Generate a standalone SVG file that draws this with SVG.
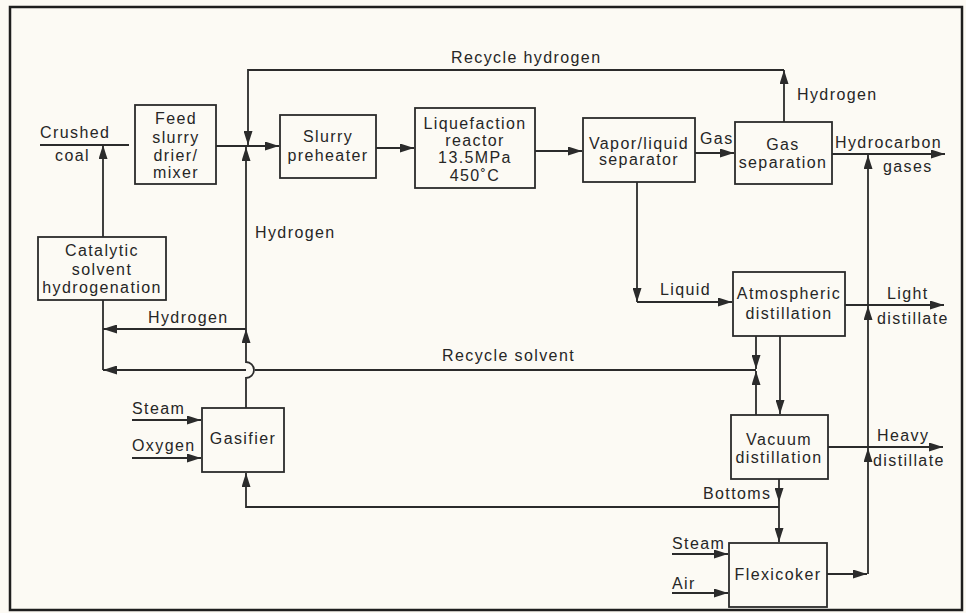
<svg xmlns="http://www.w3.org/2000/svg" width="966" height="613" viewBox="0 0 966 613">
<style>
.box{fill:none;stroke:#2b2b2b;stroke-width:1.8}
.ln{fill:none;stroke:#2b2b2b;stroke-width:1.8}
.ar{fill:none;stroke:#2b2b2b;stroke-width:1.8;marker-end:url(#ah)}
text{font-family:"Liberation Sans",Arial,Helvetica,sans-serif;font-size:16px;letter-spacing:1.4px;fill:#262626}
.c{text-anchor:middle}
</style>
<defs>
<marker id="ah" viewBox="0 0 14 9" refX="14" refY="4.5" markerWidth="14" markerHeight="9" markerUnits="userSpaceOnUse" orient="auto">
<path d="M0,0 L14,4.5 L0,9 Z" fill="#2b2b2b"/>
</marker>
</defs>
<rect x="0" y="0" width="966" height="613" fill="#fcfaf4"/>
<rect x="10" y="7" width="952" height="603" fill="none" stroke="#1e1e1e" stroke-width="2.5"/>

<g id="feed"><rect class="box" x="135" y="105" width="81" height="79"/>
<text class="c" x="176" y="124">Feed</text><text class="c" x="176" y="143">slurry</text><text class="c" x="176" y="161">drier/</text><text class="c" x="176" y="178">mixer</text></g>
<g id="slurry"><rect class="box" x="280" y="115" width="96" height="63"/>
<text class="c" x="328" y="142">Slurry</text><text class="c" x="328" y="161">preheater</text></g>
<g id="reactor"><rect class="box" x="415" y="108" width="120" height="80"/>
<text class="c" x="475" y="129">Liquefaction</text><text class="c" x="475" y="146">reactor</text><text class="c" x="475" y="163">13.5MPa</text><text class="c" x="475" y="181">450˚C</text></g>
<g id="vls"><rect class="box" x="583" y="118" width="112" height="64"/>
<text class="c" x="639" y="149">Vapor/liquid</text><text class="c" x="639" y="165">separator</text></g>
<g id="gassep"><rect class="box" x="735" y="122" width="97" height="62"/>
<text class="c" x="783" y="150">Gas</text><text class="c" x="783" y="168">separation</text></g>
<g id="catalytic"><rect class="box" x="38" y="237" width="128" height="63"/>
<text class="c" x="102" y="256">Catalytic</text><text class="c" x="102" y="275">solvent</text><text class="c" x="102" y="293">hydrogenation</text></g>
<g id="atm"><rect class="box" x="733" y="272" width="112" height="64"/>
<text class="c" x="789" y="299">Atmospheric</text><text class="c" x="789" y="319">distillation</text></g>
<g id="vac"><rect class="box" x="731" y="415" width="97" height="64"/>
<text class="c" x="779" y="445">Vacuum</text><text class="c" x="779" y="463">distillation</text></g>
<g id="flexicoker"><rect class="box" x="729" y="543" width="98" height="64"/>
<text class="c" x="778" y="580">Flexicoker</text></g>
<g id="gasifier"><rect class="box" x="202" y="408" width="82" height="64"/>
<text class="c" x="243" y="444">Gasifier</text></g>

<g id="connectors">
<path class="ln" d="M40,145 L129,145"/>
<path class="ar" d="M103,237 L103,145"/>
<path class="ar" d="M216,146 L279,146"/>
<path class="ar" d="M784,122 L784,70"/>
<path class="ar" d="M784,70 L248,70 L248,145"/>
<path class="ar" d="M246,408 L246,378 A8,8 0 0 0 246,362 L246,329"/>
<path class="ar" d="M246,329 L246,147"/>
<path class="ar" d="M246,329 L103,329"/>
<path class="ln" d="M103,300 L103,370"/>
<path class="ln" d="M756,370 L255,370"/>
<path class="ar" d="M246,370 L103,370"/>
<path class="ar" d="M376,148 L414,148"/>
<path class="ar" d="M535,151 L582,151"/>
<path class="ar" d="M695,153 L734,153"/>
<path class="ar" d="M832,154 L945,154"/>
<path class="ar" d="M637,182 L637,302"/>
<path class="ar" d="M637,302 L732,302"/>
<path class="ar" d="M845,305 L944,305"/>
<path class="ar" d="M756,336 L756,369"/>
<path class="ar" d="M756,415 L756,371"/>
<path class="ar" d="M780,336 L780,414"/>
<path class="ar" d="M828,447 L943,447"/>
<path class="ar" d="M779,479 L779,502"/>
<path class="ar" d="M779,502 L779,542"/>
<path class="ar" d="M779,507 L246,507 L246,473"/>
<path class="ar" d="M132,420 L201,420"/>
<path class="ar" d="M132,458 L201,458"/>
<path class="ar" d="M672,554 L728,554"/>
<path class="ar" d="M672,593 L728,593"/>
<path class="ar" d="M827,574 L867,574"/>
<path class="ar" d="M868,574 L868,448"/>
<path class="ar" d="M868,447 L868,306"/>
<path class="ar" d="M868,305 L868,155"/>
</g>

<g id="labels">
<text x="40" y="138">Crushed</text>
<text x="55" y="161">coal</text>
<text x="451" y="63">Recycle hydrogen</text>
<text x="797" y="100">Hydrogen</text>
<text x="700" y="144">Gas</text>
<text x="835" y="148">Hydrocarbon</text>
<text x="883" y="172">gases</text>
<text x="255" y="238">Hydrogen</text>
<text x="148" y="323">Hydrogen</text>
<text x="442" y="361">Recycle solvent</text>
<text x="660" y="295">Liquid</text>
<text x="887" y="299">Light</text>
<text x="877" y="324">distillate</text>
<text x="132" y="414">Steam</text>
<text x="132" y="451">Oxygen</text>
<text x="877" y="441">Heavy</text>
<text x="873" y="466">distillate</text>
<text x="703" y="499">Bottoms</text>
<text x="672" y="549">Steam</text>
<text x="672" y="589">Air</text>
</g>
</svg>
